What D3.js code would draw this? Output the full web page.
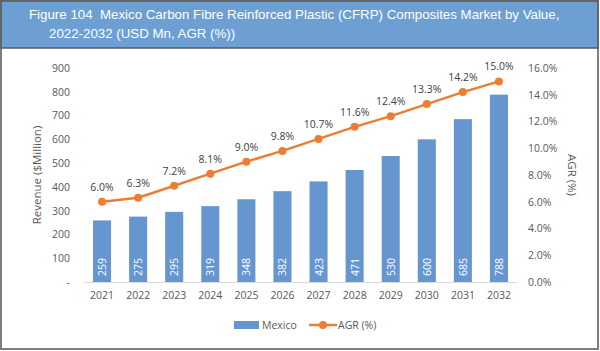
<!DOCTYPE html>
<html>
<head>
<meta charset="utf-8">
<script src="https://cdn.jsdelivr.net/npm/d3@7"></script>
<style>
body { margin: 0; background: #fff; }
</style>
</head>
<body>
<script>
var years = ["2021","2022","2023","2024","2025","2026","2027","2028","2029","2030","2031","2032"];
var revenue = [259,275,295,319,348,382,423,471,530,600,685,788];
var agr = [6.0,6.3,7.2,8.1,9.0,9.8,10.7,11.6,12.4,13.3,14.2,15.0];
var leftTicks = [0,100,200,300,400,500,600,700,800,900];
var rightTicks = [0,2,4,6,8,10,12,14,16];

var width = 600, height = 351;
var font = "'Open Sans', sans-serif";
var fs = "10.5px";
var svg = d3.select("body").append("svg")
    .attr("width", width)
    .attr("height", height);

// outer frame
svg.append("rect")
    .attr("x", 1).attr("y", 1)
    .attr("width", 597).attr("height", 348)
    .attr("fill", "#fff")
    .attr("stroke", "#7f7f7f")
    .attr("stroke-width", 2);

// title bar
svg.append("rect")
    .attr("x", 1).attr("y", 1)
    .attr("width", 597).attr("height", 47)
    .attr("fill", "#6d9fd3")
    .attr("stroke", "#595959")
    .attr("stroke-width", 1.5);

var title = svg.append("text")
    .attr("fill", "#fff")
    .attr("font-family", "'Liberation Sans', Arial, sans-serif")
    .attr("font-size", "13.3px")
    .style("white-space", "pre");
title.append("tspan").attr("x", 29).attr("y", 19)
    .text("Figure 104  Mexico Carbon Fibre Reinforced Plastic (CFRP) Composites Market by Value,");
title.append("tspan").attr("x", 49).attr("y", 38)
    .text("2022-2032 (USD Mn, AGR (%))");

var x = d3.scaleBand()
    .domain(years)
    .range([84, 517])
    .paddingInner(0.5)
    .paddingOuter(0.25);
var yL = d3.scaleLinear().domain([0, 900]).range([282, 68]);
var yR = d3.scaleLinear().domain([0, 16]).range([282, 68]);

var tickColor = "#595959";

// left axis
var leftAxis = d3.axisLeft(yL)
    .tickValues(leftTicks)
    .tickSize(0)
    .tickPadding(0)
    .tickFormat(function(d) { return d === 0 ? "-" : d; });
var gL = svg.append("g")
    .attr("transform", "translate(70,0)")
    .call(leftAxis);
gL.select(".domain").remove();
gL.selectAll("text").attr("fill", tickColor).attr("font-size", fs)
    .attr("font-family", font);

// right axis
var rightAxis = d3.axisRight(yR)
    .tickValues(rightTicks)
    .tickSize(0)
    .tickPadding(0)
    .tickFormat(function(d) { return d.toFixed(1) + "%"; });
var gR = svg.append("g")
    .attr("transform", "translate(528,0)")
    .call(rightAxis);
gR.select(".domain").remove();
gR.selectAll("text").attr("fill", tickColor).attr("font-size", fs)
    .attr("font-family", font);

// x axis
var xAxis = d3.axisBottom(x).tickSize(0).tickPadding(10);
var gX = svg.append("g")
    .attr("transform", "translate(0,282)")
    .call(xAxis);
gX.select(".domain").attr("stroke", "#d9d9d9");
gX.selectAll("text").attr("fill", tickColor).attr("font-size", fs)
    .attr("font-family", font);

// axis titles
svg.append("text")
    .attr("transform", "translate(41,175) rotate(-90)")
    .attr("text-anchor", "middle")
    .attr("fill", tickColor)
    .attr("font-size", "11.5px")
    .attr("font-family", font)
    .text("Revenue ($Million)");
svg.append("text")
    .attr("transform", "translate(568,175) rotate(90)")
    .attr("text-anchor", "middle")
    .attr("fill", tickColor)
    .attr("font-size", "11.5px")
    .attr("font-family", font)
    .text("AGR (%)");

// bars
var barColor = "#6596d0";
svg.selectAll("rect.bar")
    .data(revenue)
    .enter()
    .append("rect")
    .attr("class", "bar")
    .attr("x", function(d, i) { return x(years[i]); })
    .attr("y", function(d) { return yL(d); })
    .attr("width", x.bandwidth())
    .attr("height", function(d) { return yL(0) - yL(d); })
    .attr("fill", barColor);

// bar labels
svg.selectAll("text.barlabel")
    .data(revenue)
    .enter()
    .append("text")
    .attr("class", "barlabel")
    .attr("transform", function(d, i) {
        return "translate(" + (x(years[i]) + x.bandwidth() / 2 + 4) + "," + (yL(0) - 6) + ") rotate(-90)";
    })
    .attr("fill", "#fff")
    .attr("font-size", fs)
    .attr("font-family", font)
    .text(function(d) { return d; });

// AGR line
var lineColor = "#ed7d31";
var line = d3.line()
    .x(function(d, i) { return x(years[i]) + x.bandwidth() / 2; })
    .y(function(d) { return yR(d); });
svg.append("path")
    .datum(agr)
    .attr("d", line)
    .attr("fill", "none")
    .attr("stroke", lineColor)
    .attr("stroke-width", 2.5);
svg.selectAll("circle.pt")
    .data(agr)
    .enter()
    .append("circle")
    .attr("class", "pt")
    .attr("cx", function(d, i) { return x(years[i]) + x.bandwidth() / 2; })
    .attr("cy", function(d) { return yR(d); })
    .attr("r", 4)
    .attr("fill", lineColor);
svg.selectAll("text.agrlabel")
    .data(agr)
    .enter()
    .append("text")
    .attr("class", "agrlabel")
    .attr("x", function(d, i) { return x(years[i]) + x.bandwidth() / 2; })
    .attr("y", function(d) { return yR(d) - 11; })
    .attr("text-anchor", "middle")
    .attr("fill", "#404040")
    .attr("font-size", fs)
    .attr("font-family", font)
    .text(function(d) { return d.toFixed(1) + "%"; });

// legend
var legend = svg.append("g").attr("transform", "translate(0,325)");
legend.append("rect")
    .attr("x", 234).attr("y", -4)
    .attr("width", 25).attr("height", 8)
    .attr("fill", barColor);
legend.append("text")
    .attr("x", 262).attr("y", 4)
    .attr("fill", tickColor)
    .attr("font-size", fs)
    .attr("font-family", font)
    .text("Mexico");
legend.append("line")
    .attr("x1", 309).attr("x2", 337)
    .attr("y1", 0).attr("y2", 0)
    .attr("stroke", lineColor)
    .attr("stroke-width", 2.5);
legend.append("circle")
    .attr("cx", 323).attr("cy", 0).attr("r", 4)
    .attr("fill", lineColor);
legend.append("text")
    .attr("x", 338).attr("y", 4)
    .attr("fill", tickColor)
    .attr("font-size", fs)
    .attr("font-family", font)
    .text("AGR (%)");
</script>
</body>
</html>
